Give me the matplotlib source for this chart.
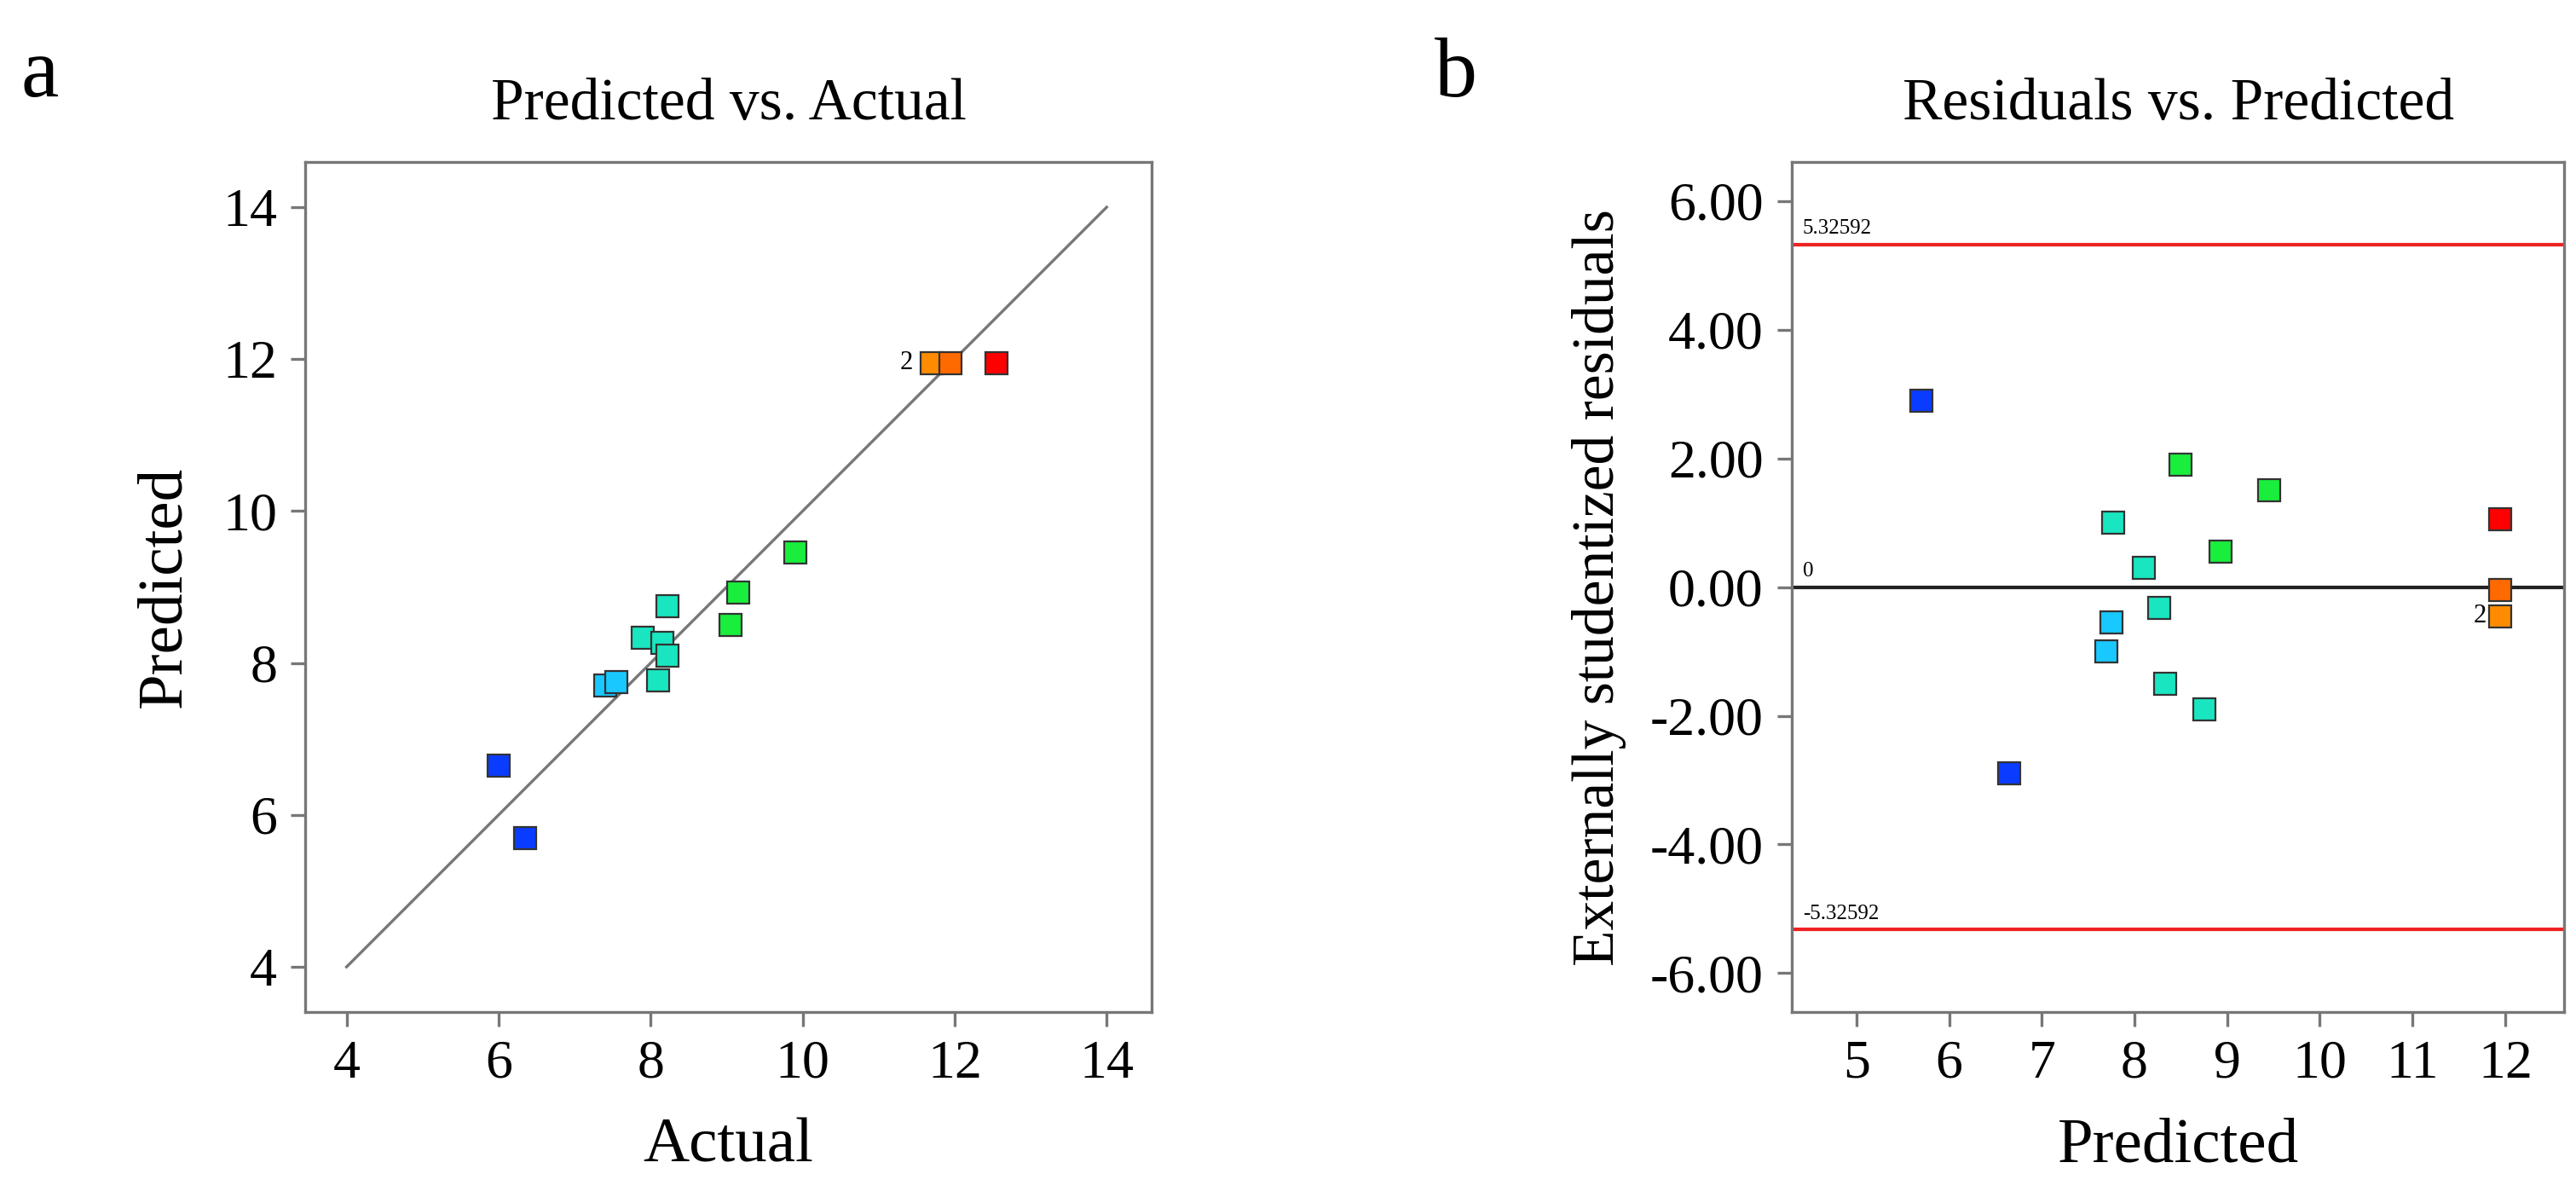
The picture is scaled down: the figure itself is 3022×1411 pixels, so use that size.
import matplotlib
matplotlib.use("Agg")
import matplotlib.pyplot as plt

plt.rcParams['font.family'] = ['Liberation Serif', 'DejaVu Serif']

# panel a: actual vs predicted
actual = [6.0, 6.35, 7.4, 7.55, 7.9, 8.1, 8.15, 8.22, 8.22, 9.05, 9.15, 9.9, 11.7, 11.95, 12.55]
predicted_a = [6.65, 5.7, 7.7, 7.75, 8.33, 7.77, 8.27, 8.1, 8.75, 8.5, 8.93, 9.45, 11.95, 11.95, 11.95]
colors_a = ['#0a3cff', '#0a3cff', '#19c8ff', '#19c8ff', '#19e6c0', '#19e6c0', '#19e6c0', '#19e6c0',
            '#19e6c0', '#19ee3c', '#19ee3c', '#19ee3c', '#ff8c00', '#ff6a00', '#ff0000']

# panel b: residuals vs predicted
predicted_b = [5.7, 6.65, 7.7, 7.75, 7.77, 8.1, 8.27, 8.33, 8.5, 8.75, 8.93, 9.45, 11.95, 11.95, 11.95]
residuals = [2.9, -2.9, -1.0, -0.55, 1.0, 0.3, -0.33, -1.5, 1.9, -1.9, 0.55, 1.5, 1.05, -0.05, -0.45]
colors_b = ['#0a3cff', '#0a3cff', '#19c8ff', '#19c8ff', '#19e6c0', '#19e6c0', '#19e6c0', '#19e6c0',
            '#19ee3c', '#19e6c0', '#19ee3c', '#19ee3c', '#ff0000', '#ff6a00', '#ff8c00']
limit = 5.32592

fig = plt.figure(figsize=(15.11, 7.055), dpi=200)
ax1 = fig.add_axes([0.1186, 0.159, 0.3284, 0.706])
ax2 = fig.add_axes([0.6955, 0.159, 0.300, 0.706])

for ax in (ax1, ax2):
    for s in ax.spines.values():
        s.set_color('#777777')
        s.set_linewidth(1.2)
    ax.tick_params(labelsize=23, color='#777777', length=6, width=1.2, pad=6)

ax1.plot([4, 14], [4, 14], color='#777777', lw=1.2, zorder=1)
for x, y, c in zip(actual, predicted_a, colors_a):
    ax1.plot(x, y, 's', ms=9.5, mfc=c, mec='#333333', mew=0.8, zorder=3)
ax1.text(11.45, 11.95, '2', fontsize=11, ha='right', va='center')
ax1.set_xlim(3.46, 14.59)
ax1.set_ylim(3.41, 14.59)
ax1.set_xticks([4, 6, 8, 10, 12, 14])
ax1.set_yticks([4, 6, 8, 10, 12, 14])
ax1.set_title('Predicted vs. Actual', fontsize=25, pad=18)
ax1.set_xlabel('Actual', fontsize=27, labelpad=12)
ax1.set_ylabel('Predicted', fontsize=27, labelpad=12)

ax2.axhline(limit, color='#ee2222', lw=1.5, zorder=1)
ax2.axhline(-limit, color='#ee2222', lw=1.5, zorder=1)
ax2.axhline(0, color='#222222', lw=1.5, zorder=1)
ax2.text(4.42, limit + 0.1, '5.32592', fontsize=9, va='bottom')
ax2.text(4.42, -limit + 0.1, '-5.32592', fontsize=9, va='bottom')
ax2.text(4.42, 0.1, '0', fontsize=9, va='bottom')
for x, y, c in zip(predicted_b, residuals, colors_b):
    ax2.plot(x, y, 's', ms=9.5, mfc=c, mec='#333333', mew=0.8, zorder=3)
ax2.text(11.8, -0.45, '2', fontsize=11, ha='right', va='center')
ax2.set_xlim(4.3, 12.64)
ax2.set_ylim(-6.6, 6.6)
ax2.set_xticks(range(5, 13))
ax2.set_yticks([-6, -4, -2, 0, 2, 4, 6])
ax2.set_yticklabels(['%.2f' % v for v in [-6, -4, -2, 0, 2, 4, 6]])
ax2.set_title('Residuals vs. Predicted', fontsize=25, pad=18)
ax2.set_xlabel('Predicted', fontsize=27, labelpad=12)
ax2.set_ylabel('Externally studentized residuals', fontsize=25, labelpad=10)

fig.text(0.008, 0.92, 'a', fontsize=36)
fig.text(0.557, 0.92, 'b', fontsize=36)

fig.savefig('out.png', dpi=200)
